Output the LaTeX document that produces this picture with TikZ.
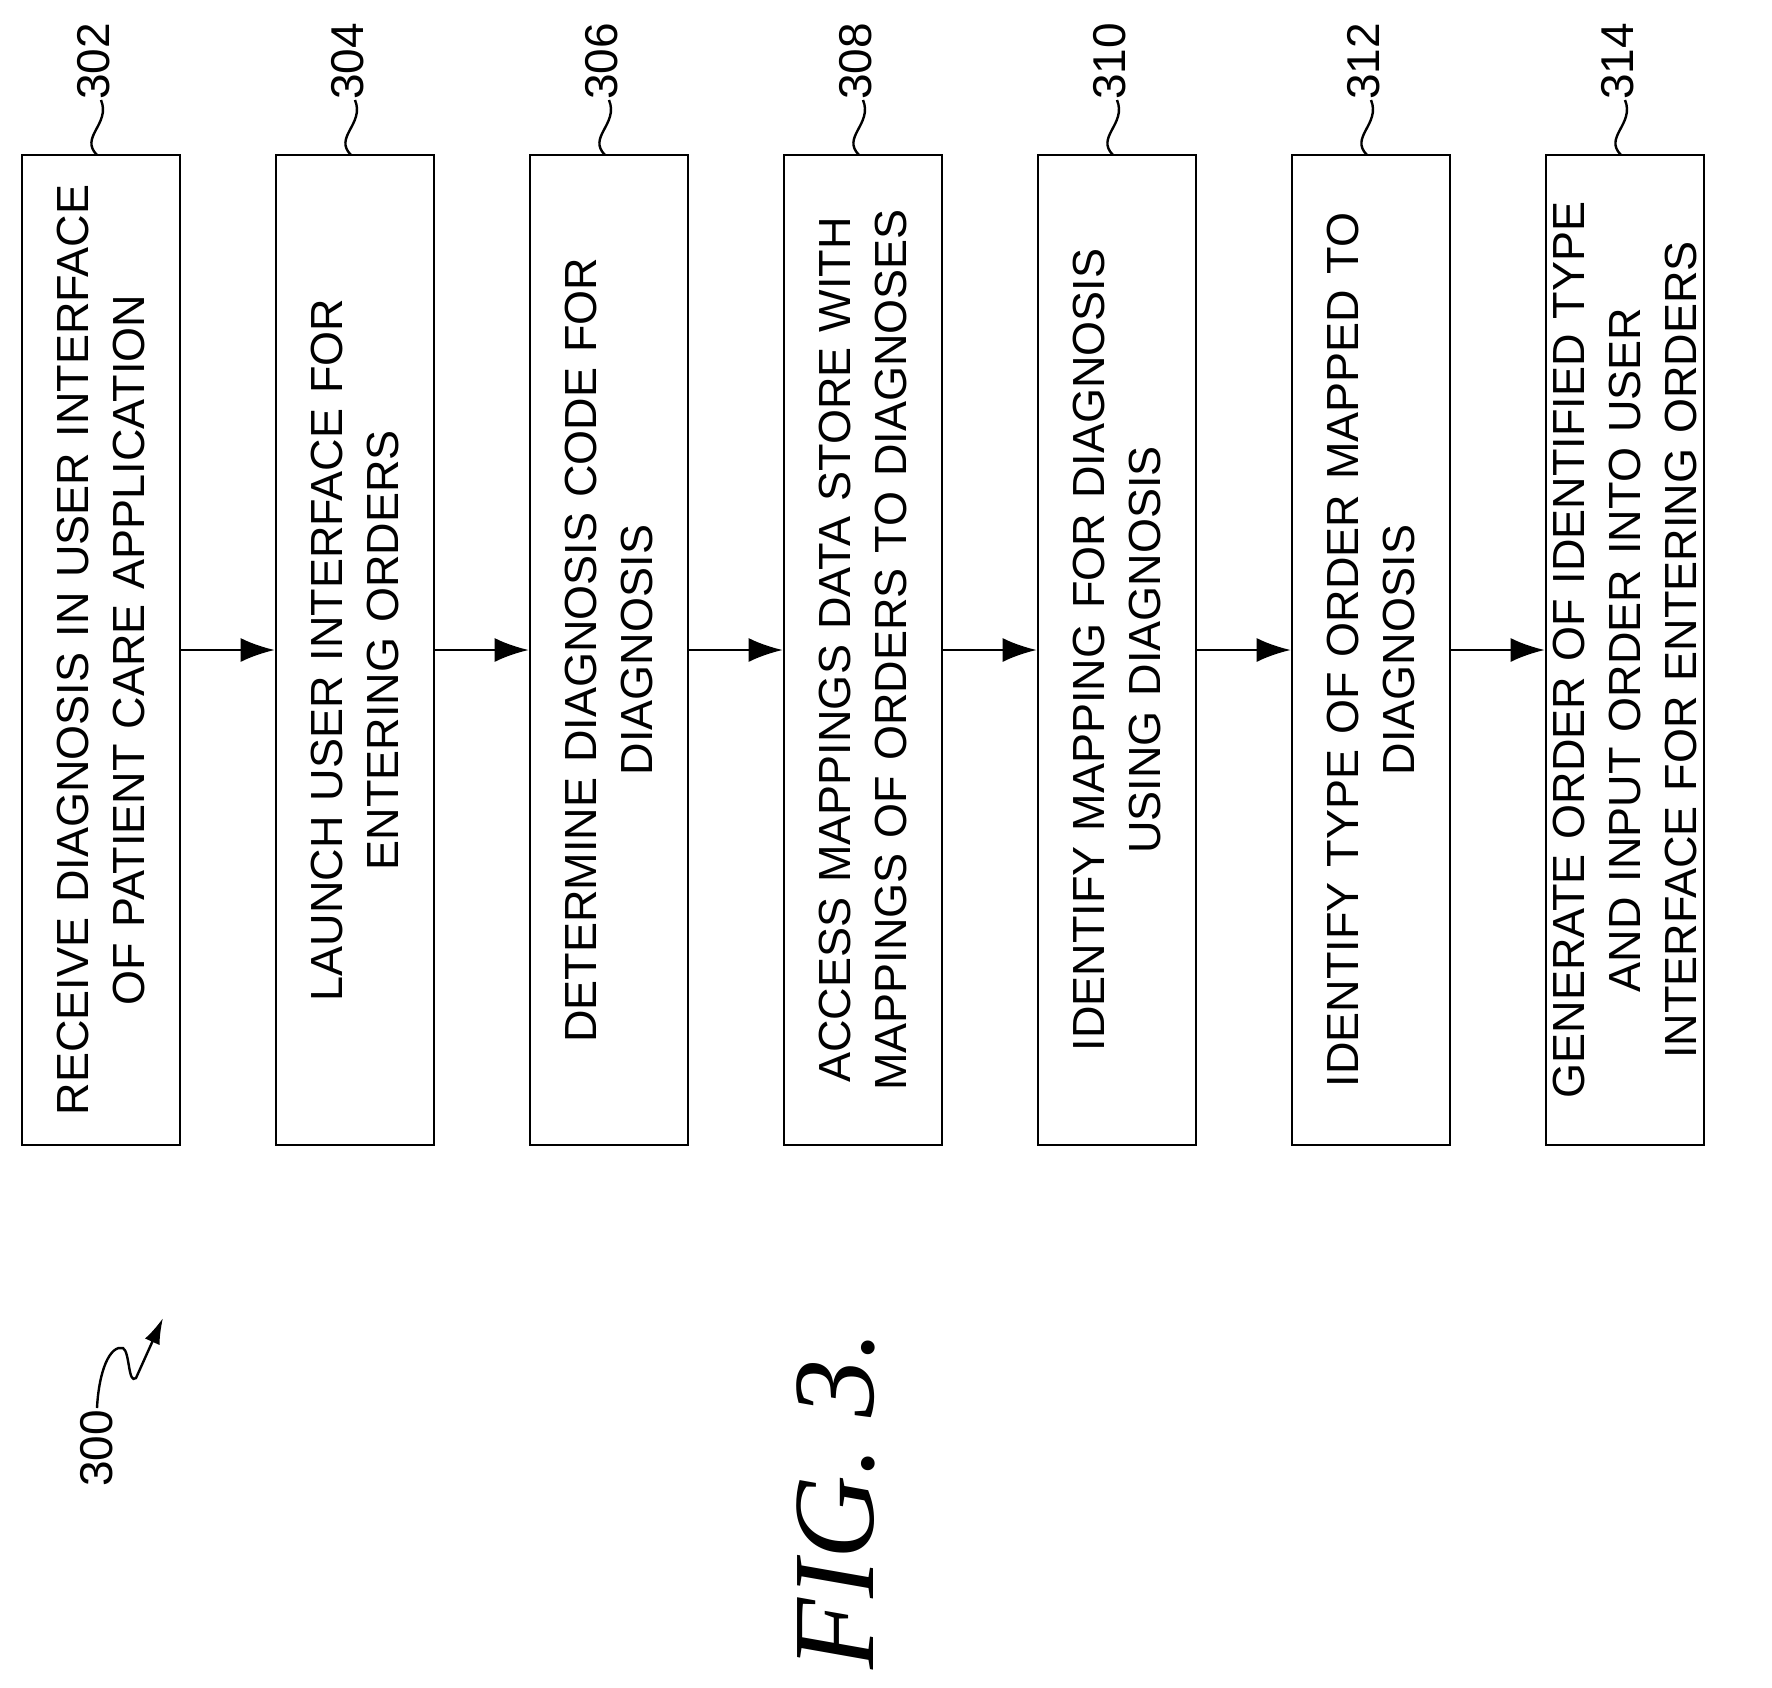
\documentclass[tikz,border=0pt]{standalone}
\usepackage{fontspec}
\setmainfont{Liberation Sans}
\newfontfamily\figfont{Liberation Serif}
\usetikzlibrary{arrows.meta}
\begin{document}
\begin{tikzpicture}[x=1pt,y=1pt,
  box/.style={draw,line width=2.6pt,rotate=90,minimum width=990pt,minimum height=158pt,
    text width=960pt,align=center,inner sep=0pt,font=\fontsize{45}{56}\selectfont},
  arr/.style={line width=2.6pt,-{Latex[length=34pt,width=24pt]}},
  lbl/.style={rotate=90,anchor=west,inner sep=0pt,font=\fontsize{46}{50}\selectfont},
  sq/.style={line width=2.4pt}]
\useasboundingbox (0,0) rectangle (1772,-1687);
\node[box] (b1) at (101,-650) {RECEIVE DIAGNOSIS IN USER INTERFACE\\OF PATIENT CARE APPLICATION};
\node[box] (b2) at (355,-650) {LAUNCH USER INTERFACE FOR\\ENTERING ORDERS};
\node[box] (b3) at (609,-650) {DETERMINE DIAGNOSIS CODE FOR\\DIAGNOSIS};
\node[box] (b4) at (863,-650) {ACCESS MAPPINGS DATA STORE WITH\\MAPPINGS OF ORDERS TO DIAGNOSES};
\node[box] (b5) at (1117,-650) {IDENTIFY MAPPING FOR DIAGNOSIS\\USING DIAGNOSIS};
\node[box] (b6) at (1371,-650) {IDENTIFY TYPE OF ORDER MAPPED TO\\DIAGNOSIS};
\node[box] (b7) at (1625,-650) {GENERATE ORDER OF IDENTIFIED TYPE\\AND INPUT ORDER INTO USER\\INTERFACE FOR ENTERING ORDERS};
\foreach \a/\b in {b1/b2,b2/b3,b3/b4,b4/b5,b5/b6,b6/b7} \draw[arr] (\a) -- (\b);
\foreach \i/\n in {0/302,1/304,2/306,3/308,4/310,5/312,6/314}{
  \pgfmathsetmacro{\xx}{97+254*\i}
  \coordinate (s\n) at (\xx,-155);
  \node[lbl] (l\n) at (\xx-3,-100) {\n};
  \draw[sq] (s\n) .. controls ++(-18,18) and ++(10,-24) .. ++(4,55);
}
\node[lbl,anchor=east] (l300) at (97,-1410) {300};
\coordinate (t300) at (163,-1318);
\draw[sq,-{Latex[length=26pt,width=16pt]}] (97,-1408) .. controls (99,-1370) and (110,-1345) .. (123,-1348)
  .. controls (130,-1352) and (128,-1385) .. (136,-1378) -- (t300);
\node[rotate=90,inner sep=0pt,font=\figfont\itshape\fontsize{116}{120}\selectfont] (fig) at (836,-1500) {FIG. 3.};
\end{tikzpicture}
\end{document}
